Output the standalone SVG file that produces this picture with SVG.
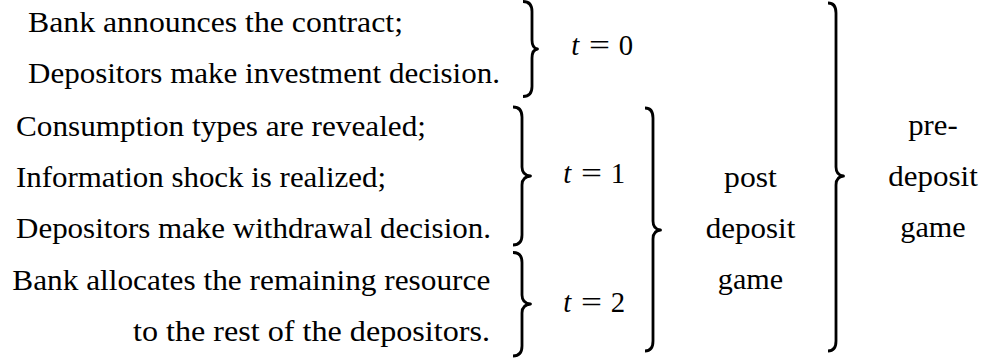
<svg xmlns="http://www.w3.org/2000/svg" width="986" height="360" viewBox="0 0 986 360">
<style>
.tx{font-size:28.7px;fill:#000}
.c{text-anchor:middle}
.br{fill:none;stroke:#000;stroke-width:2.8;stroke-linejoin:round}
</style>
<rect width="986" height="360" fill="#fff"/>
<g id="connectors">
<path class="br" d="M523,1.5 C529,1.5 532,5 532,11.5 L532,40 C532,45 534,48.5 537.5,49 C534,49.5 532,53 532,58 L532,86.5 C532,93 529,96.5 523,96.5"/>
<path class="br" d="M513,107 C519,107 522,110.5 522,117 L522,167 C522,172 524,175.5 530.5,176 C524,176.5 522,180 522,185 L522,235 C522,241.5 519,245 513,245"/>
<path class="br" d="M513,252.5 C519,252.5 522,256 522,262.5 L522,295 C522,300 524,303.5 530.5,304 C524,304.5 522,308 522,313 L522,346 C522,352.5 519,356 513,356"/>
<path class="br" d="M645,108 C651,108 653,111.5 653,118 L653,221 C653,226 655,229.5 660.5,230 C655,230.5 653,234 653,239 L653,341 C653,347.5 651,351 645,351"/>
<path class="br" d="M828,3 C834,3 836,6.5 836,13 L836,167 C836,172 838,175.5 843.5,176 C838,176.5 836,180 836,185 L836,341 C836,347.5 834,351 828,351"/>
</g>
<g font-family="Liberation Serif">
<g id="t0-events">
<text class="tx" x="28" y="32" textLength="375" lengthAdjust="spacingAndGlyphs">Bank announces the contract;</text>
<text class="tx" x="28" y="83" textLength="472" lengthAdjust="spacingAndGlyphs">Depositors make investment decision.</text>
</g>
<g id="t1-events">
<text class="tx" x="16" y="136" textLength="410" lengthAdjust="spacingAndGlyphs">Consumption types are revealed;</text>
<text class="tx" x="16" y="187" textLength="370" lengthAdjust="spacingAndGlyphs">Information shock is realized;</text>
<text class="tx" x="16" y="238" textLength="475" lengthAdjust="spacingAndGlyphs">Depositors make withdrawal decision.</text>
</g>
<g id="t2-events">
<text class="tx" x="12.3" y="290" textLength="478" lengthAdjust="spacingAndGlyphs">Bank allocates the remaining resource</text>
<text class="tx" x="133" y="341" textLength="357" lengthAdjust="spacingAndGlyphs">to the rest of the depositors.</text>
</g>
<g id="t0">
<text class="tx c" x="575.2" y="55" font-style="italic">t</text>
<text class="tx c" x="599.5" y="55" textLength="21" lengthAdjust="spacingAndGlyphs">=</text>
<text class="tx c" x="625.8" y="55">0</text>
</g>
<g id="t1">
<text class="tx c" x="567.2" y="183" font-style="italic">t</text>
<text class="tx c" x="591.5" y="183" textLength="21" lengthAdjust="spacingAndGlyphs">=</text>
<text class="tx c" x="617.8" y="183">1</text>
</g>
<g id="t2">
<text class="tx c" x="567.2" y="312" font-style="italic">t</text>
<text class="tx c" x="591.5" y="312" textLength="21" lengthAdjust="spacingAndGlyphs">=</text>
<text class="tx c" x="617.8" y="312">2</text>
</g>
<g id="post-deposit-game">
<text class="tx c" x="750.5" y="187" textLength="52.8" lengthAdjust="spacingAndGlyphs">post</text>
<text class="tx c" x="750.5" y="238" textLength="89.5" lengthAdjust="spacingAndGlyphs">deposit</text>
<text class="tx c" x="750.5" y="289" textLength="65.3" lengthAdjust="spacingAndGlyphs">game</text>
</g>
<g id="pre-deposit-game">
<text class="tx c" x="933" y="135" textLength="49.5" lengthAdjust="spacingAndGlyphs">pre-</text>
<text class="tx c" x="933" y="186" textLength="89.5" lengthAdjust="spacingAndGlyphs">deposit</text>
<text class="tx c" x="933" y="237" textLength="65.3" lengthAdjust="spacingAndGlyphs">game</text>
</g>
</g>
</svg>
